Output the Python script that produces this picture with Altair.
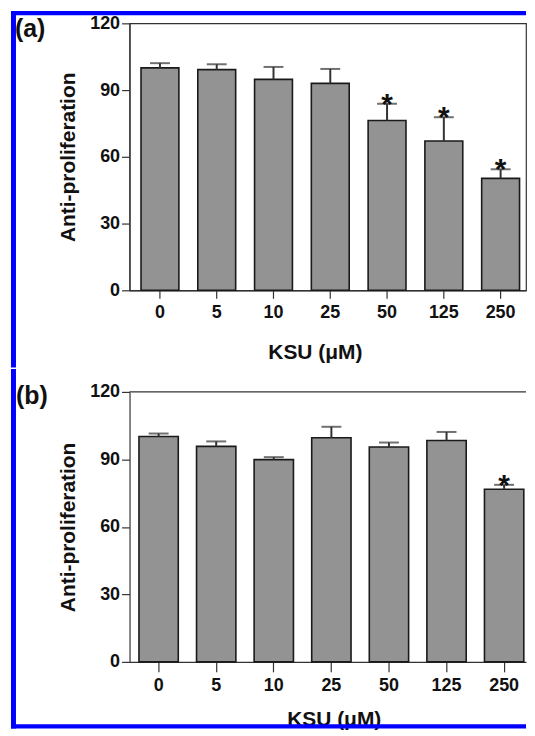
import altair as alt
import pandas as pd

# ---- data ----
conc = ["0", "5", "10", "25", "50", "125", "250"]
a_mean = [100.0, 99.2, 94.8, 93.0, 76.3, 67.1, 50.3]
a_err = [2.1, 2.4, 5.6, 6.5, 7.6, 10.7, 4.1]
a_sig = [False, False, False, False, True, True, True]
b_mean = [100.2, 95.8, 89.9, 99.6, 95.5, 98.4, 76.7]
b_err = [1.3, 2.2, 1.1, 4.9, 2.0, 3.8, 2.0]
b_sig = [False, False, False, False, False, False, True]
y_ticks = [0, 30, 60, 90, 120]
x_title = "KSU (μM)"
y_title = "Anti-proliferation"
panel_labels = ["(a)", "(b)"]

FONT = "Liberation Sans, Arial, Helvetica, sans-serif"
BLUE = "#0000ff"
INK = "#333333"
BAR_FILL = "#939393"


def make_df(mean, err, sig):
    return pd.DataFrame({
        "conc": conc,
        "mean": mean,
        "upper": [m + e for m, e in zip(mean, err)],
        "star": list(sig),
    })


def panel(mean, err, sig, label, width, height, scale_kw, tick_size,
          title_x, title_pad, blue_rects, label_xy, framed):
    df = make_df(mean, err, sig)
    xax = alt.Axis(title=x_title, labelAngle=0, tickSize=tick_size,
                   labelPadding=5, titlePadding=title_pad, titleX=title_x)
    x = alt.X("conc:N", sort=conc, scale=alt.Scale(**scale_kw), axis=xax)
    yscale = alt.Scale(domain=[0, 120], nice=False, zero=True)
    yax = alt.Axis(values=y_ticks, title=y_title, tickSize=8,
                   labelPadding=2, titlePadding=11)

    bars = alt.Chart(df).mark_bar(fill=BAR_FILL, stroke="#1a1a1a",
                                  strokeWidth=1.6).encode(
        x=x, y=alt.Y("mean:Q", scale=yscale, axis=yax, title=y_title))
    err_rule = alt.Chart(df).mark_rule(color=INK, strokeWidth=2).encode(
        x=x, y=alt.Y("mean:Q", scale=yscale, title=y_title), y2="upper:Q")
    cap = alt.Chart(df).mark_tick(color=INK, thickness=2, size=20).encode(
        x=x, y=alt.Y("upper:Q", scale=yscale, title=y_title))
    stars = alt.Chart(df).transform_filter("datum.star").mark_text(
        font=FONT, fontSize=30, fontWeight="bold", baseline="alphabetic",
        dy=10, color="#111111", text="*").encode(
        x=x, y=alt.Y("upper:Q", scale=yscale, title=y_title))

    one = pd.DataFrame({"k": [0]})
    layers = [bars, err_rule, cap, stars]
    for (x1, x2, y1, y2) in blue_rects:
        layers.append(alt.Chart(one).mark_rect(color=BLUE).encode(
            x=alt.value(x1), x2=alt.value(x2),
            y=alt.value(y1), y2=alt.value(y2)))
    lab = pd.DataFrame({"t": [label]})
    layers.append(alt.Chart(lab).mark_text(
        font=FONT, fontSize=25, fontWeight="bold", align="left",
        baseline="alphabetic", color="#111111").encode(
        x=alt.value(label_xy[0]), y=alt.value(label_xy[1]), text="t:N"))
    if not framed:
        layers.append(alt.Chart(one).mark_rule(color=INK, strokeWidth=1.2).encode(
            x=alt.value(0), x2=alt.value(width), y=alt.value(0)))

    view = (alt.ViewBackground(stroke=INK, strokeWidth=1.2, strokeOpacity=1)
            if framed else alt.ViewBackground(strokeOpacity=0))
    return alt.layer(*layers).properties(width=width, height=height, view=view)


# panel (a): plot origin at page (129, 20.5)
pa = panel(a_mean, a_err, a_sig, panel_labels[0], 398, 268,
           dict(paddingInner=0.333, paddingOuter=0.158, align=0.64),
           8, 186, 20,
           [(-119, 398, -12.5, -8), (-119, -114, -12.5, 345.5)],
           (-115, 13.3), True)

# panel (b): plot origin at page (129, 389)
pb = panel(b_mean, b_err, b_sig, panel_labels[1], 398, 271,
           dict(paddingInner=0.317, paddingOuter=0.101, align=0.81),
           10, 205, 14,
           [(-119, -114, -23, 338), (-119, 398, 333.5, 338)],
           (-114, 12.0), False)

chart = alt.vconcat(pa, pb, spacing=0).properties(
    padding={"left": 2, "top": 0, "right": 0, "bottom": 0},
    background="white",
).configure_view(strokeOpacity=0).configure_axis(
    grid=False,
    labelFont=FONT, labelFontSize=18, labelFontWeight="bold",
    labelColor="#111111",
    titleFont=FONT, titleFontSize=21, titleFontWeight="bold",
    titleColor="#111111",
    domainColor=INK, domainWidth=1.2,
    tickColor=INK, tickWidth=1.2,
)

chart.save("out.html", embed_options={"renderer": "svg", "actions": False})
